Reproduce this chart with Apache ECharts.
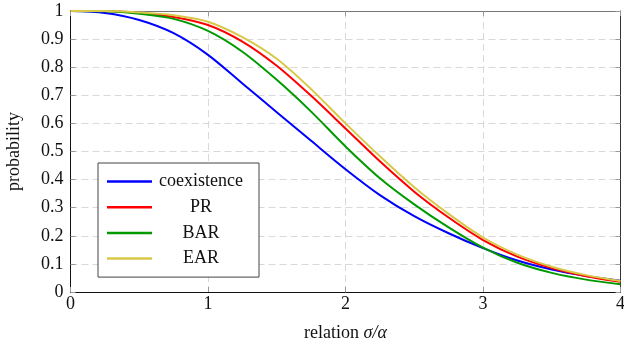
<!DOCTYPE html>
<html>
<head>
<meta charset="utf-8">
<script src="https://cdn.jsdelivr.net/npm/echarts@6/dist/echarts.min.js"></script>
<style>
html,body{margin:0;padding:0;background:#fff;}
#chart{width:624px;height:350px;}
</style>
</head>
<body>
<div id="chart"></div>
<script>
var xValues = [0, 0.25, 0.5, 0.75, 1, 1.25, 1.5, 1.75, 2, 2.25, 2.5, 2.75, 3, 3.25, 3.5, 3.75, 4];
var coexistence = [1, 0.993, 0.968, 0.921, 0.844, 0.742, 0.640, 0.538, 0.437, 0.345, 0.270, 0.209, 0.156, 0.112, 0.080, 0.057, 0.040];
var PR  = [1, 1, 0.993, 0.979, 0.950, 0.891, 0.805, 0.698, 0.582, 0.465, 0.357, 0.265, 0.185, 0.126, 0.085, 0.056, 0.036];
var BAR = [1, 0.999, 0.990, 0.972, 0.929, 0.855, 0.755, 0.642, 0.518, 0.405, 0.312, 0.230, 0.158, 0.104, 0.068, 0.044, 0.028];
var EAR = [1, 1, 0.995, 0.985, 0.962, 0.907, 0.830, 0.722, 0.600, 0.483, 0.373, 0.278, 0.194, 0.133, 0.090, 0.060, 0.039];
var seriesNames = ['coexistence', 'PR', 'BAR', 'EAR'];
var seriesColors = ['#0000ff', '#ff0000', '#009a00', '#d8c848'];
var xTickLabels = ['0', '1', '2', '3', '4'];

var FONT = 'Liberation Serif';
function pairs(ys) { return xValues.map(function (x, i) { return [x, ys[i]]; }); }
var allData = [coexistence, PR, BAR, EAR];

var chart = echarts.init(document.getElementById('chart'), null, {renderer: 'canvas'});
var dash = {show: true, lineStyle: {color: '#d9d9d9', type: [7, 4], width: 1}};
chart.setOption({
  animation: false,
  backgroundColor: '#fff',
  textStyle: {fontFamily: FONT},
  grid: {left: 70.5, right: 3.5, top: 11, bottom: 58, containLabel: false, outerBoundsMode: 'none'},
  legend: {
    orient: 'vertical',
    left: 98, top: 163,
    padding: [9.5, 14, 9.5, 9],
    itemWidth: 45, itemHeight: 2.5,
    itemGap: 7.7,
    itemTextGap: 5,
    icon: 'rect',
    borderColor: '#444', borderWidth: 1,
    backgroundColor: '#fff',
    data: seriesNames,
    formatter: function (n) { return '{a|' + n + '}'; },
    textStyle: {
      fontFamily: FONT, fontSize: 18, color: '#111',
      rich: {a: {width: 88, align: 'center', fontFamily: FONT, fontSize: 18, lineHeight: 18, color: '#111'}}
    }
  },
  xAxis: [{
    type: 'value', min: 0, max: 4, interval: 1,
    name: '{a|relation }{b|σ/α}', nameLocation: 'middle', nameGap: 32,
    nameTextStyle: {fontFamily: FONT, fontSize: 18, color: '#111',
      rich: {a: {fontFamily: FONT, fontSize: 18, color: '#111'}, b: {fontFamily: FONT, fontSize: 18, fontStyle: 'italic', color: '#111'}}},
    axisLine: {show: true, onZero: false, lineStyle: {color: '#111', width: 1}},
    axisTick: {show: true, inside: true, length: 5, lineStyle: {color: '#999'}},
    axisLabel: {fontFamily: FONT, fontSize: 18, color: '#111', margin: 3,
      formatter: function (v) { return xTickLabels[Math.round(v)]; }},
    splitLine: dash
  }, {
    type: 'value', min: 0, max: 4, interval: 1, position: 'top',
    axisLine: {show: true, onZero: false, lineStyle: {color: '#777', width: 1}},
    axisTick: {show: true, inside: true, length: 5, lineStyle: {color: '#999'}},
    axisLabel: {show: false}, splitLine: {show: false}
  }],
  yAxis: [{
    type: 'value', min: 0, max: 1, interval: 0.1,
    name: 'probability', nameLocation: 'middle', nameGap: 47,
    nameTextStyle: {fontFamily: FONT, fontSize: 18, color: '#111'},
    axisLine: {show: true, onZero: false, lineStyle: {color: '#111', width: 1}},
    axisTick: {show: true, inside: true, length: 5, lineStyle: {color: '#999'}},
    axisLabel: {fontFamily: FONT, fontSize: 18, color: '#111', margin: 7,
      formatter: function (v) { return (v === 0 || v === 1) ? String(v) : v.toFixed(1); }},
    splitLine: dash
  }, {
    type: 'value', min: 0, max: 1, interval: 0.1, position: 'right',
    axisLine: {show: true, onZero: false, lineStyle: {color: '#333', width: 1}},
    axisTick: {show: true, inside: true, length: 5, lineStyle: {color: '#999'}},
    axisLabel: {show: false}, splitLine: {show: false}
  }],
  series: seriesNames.map(function (n, i) {
    return {
      name: n, type: 'line', data: pairs(allData[i]),
      smooth: 0.3, showSymbol: false, symbol: 'none',
      color: seriesColors[i],
      lineStyle: {color: seriesColors[i], width: 2}
    };
  })
});
</script>
</body>
</html>
